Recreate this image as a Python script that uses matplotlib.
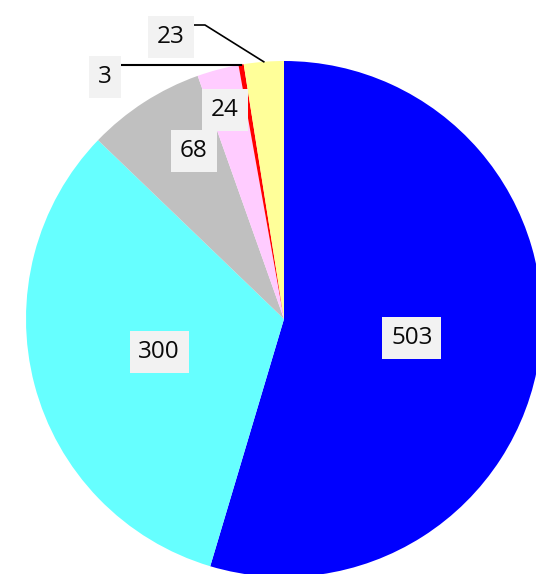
import matplotlib.pyplot as plt
import numpy as np

# slice values, clockwise from 12 o'clock
valores = [503, 300, 68, 24, 3, 23]
colores = ['#0000FF', '#66FFFF', '#C0C0C0', '#FFCCFF', '#FF0000', '#FFFF99']

# where each value label sits (pie radius = 1)
pos_etiquetas = [(0.496, -0.074), (-0.484, -0.128), (-0.349, 0.651),
                 (-0.229, 0.810), (-0.694, 0.938), (-0.438, 1.093)]

fig = plt.figure(figsize=(5.36, 5.74), dpi=100)
ax = fig.add_axes([0, 0, 1, 1])
ax.axis('off')

cuñas, _ = ax.pie(valores, colors=colores, startangle=90, counterclock=False,
                  radius=1, wedgeprops=dict(linewidth=0))

# pixel frame: centre at (284, 319), radius 258 px
r_px = 258
ax.set_xlim(-284 / r_px, (536 - 284) / r_px)
ax.set_ylim((319 - 574) / r_px, 319 / r_px)
ax.set_aspect('auto')

caja = dict(boxstyle='square,pad=0.36', facecolor='#F2F2F2', edgecolor='none')

for i, (v, (x, y)) in enumerate(zip(valores, pos_etiquetas)):
    ax.text(x, y, str(v), ha='center', va='center', fontsize=17.5,
            family='Open Sans', color='#0A0A0A', bbox=caja, zorder=5)

# leader lines for the two thin slices
def punto_medio(i):
    w = cuñas[i]
    ang = np.deg2rad((w.theta1 + w.theta2) / 2)
    return np.cos(ang), np.sin(ang)

# "3" -> red slice
xr, yr = punto_medio(4)
x0 = pos_etiquetas[4][0] + 15 / r_px
ax.plot([x0, xr], [yr, yr], color='black', linewidth=1.5, zorder=4)

# "23" -> yellow slice
xa, ya = punto_medio(5)
x1 = pos_etiquetas[5][0] + 22 / r_px
yl = pos_etiquetas[5][1] + 12 / r_px
ax.plot([x1, x1 + 12 / r_px, xa], [yl, yl, ya], color='black', linewidth=1.2, zorder=4)

fig.savefig('out.png', dpi=100)
